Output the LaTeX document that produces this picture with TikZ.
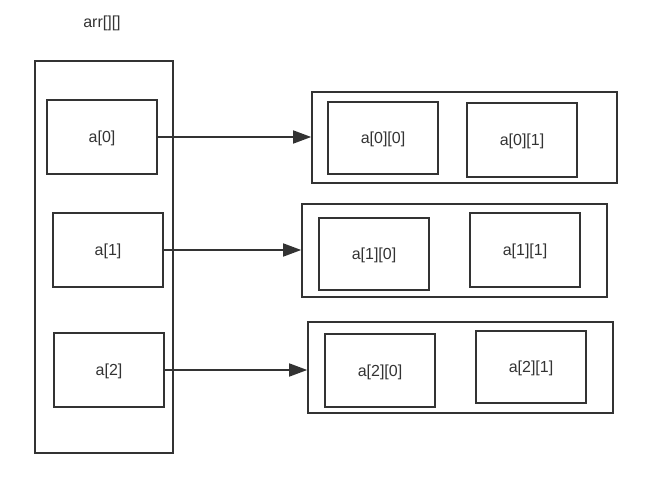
\documentclass[tikz,border=0pt]{standalone}
\usepackage{fontspec}
\setmainfont{Liberation Sans}
\usepackage{tikz}
\usetikzlibrary{calc,arrows.meta}
\definecolor{ink}{HTML}{333333}

\begin{document}
\begin{tikzpicture}[x=1pt,y=-1pt,>={Triangle[length=18pt,width=13pt]},
    cell/.style={draw=ink,line width=1.6pt,minimum width=110pt,minimum height=73pt,inner sep=0pt,
      font=\fontsize{16}{19}\selectfont,text=ink,text depth=0pt},
    frame/.style={draw=ink,line width=1.6pt,inner sep=0pt}]
      \useasboundingbox (0,0) rectangle (653,478);
      \node[text=ink,font=\fontsize{16}{19}\selectfont] (title) at (102,23) {arr[][]};
      \node[frame,minimum width=138pt,minimum height=392pt] (arr) at (104,257) {};
      \node[cell,minimum height=74pt] (a0) at (102,137) {a[0]};
      \node[cell,minimum height=74pt] (a1) at (108,250) {a[1]};
      \node[cell,minimum height=74pt] (a2) at (109,370) {a[2]};
      \node[frame,minimum width=305pt,minimum height=91pt] (row0) at (464.5,137.5) {};
      \node[frame,minimum width=305pt,minimum height=93pt] (row1) at (454.5,250.5) {};
      \node[frame,minimum width=305pt,minimum height=91pt] (row2) at (460.5,367.5) {};
      \node[cell,minimum height=72pt] (a00) at (383,138) {a[0][0]};
      \node[cell,minimum height=74pt] (a01) at (522,140) {a[0][1]};
      \node[cell,minimum height=72pt] (a10) at (374,254) {a[1][0]};
      \node[cell,minimum height=74pt] (a11) at (525,250) {a[1][1]};
      \node[cell] (a20) at (380,370.5) {a[2][0]};
      \node[cell,minimum height=72pt] (a21) at (531,367) {a[2][1]};
      \draw[->,ink,line width=1.6pt] (a0.east) -- (a0.east -| row0.west);
      \draw[->,ink,line width=1.6pt] (a1.east) -- (a1.east -| row1.west);
      \draw[->,ink,line width=1.6pt] (a2.east) -- (a2.east -| row2.west);
    \end{tikzpicture}
\end{document}
